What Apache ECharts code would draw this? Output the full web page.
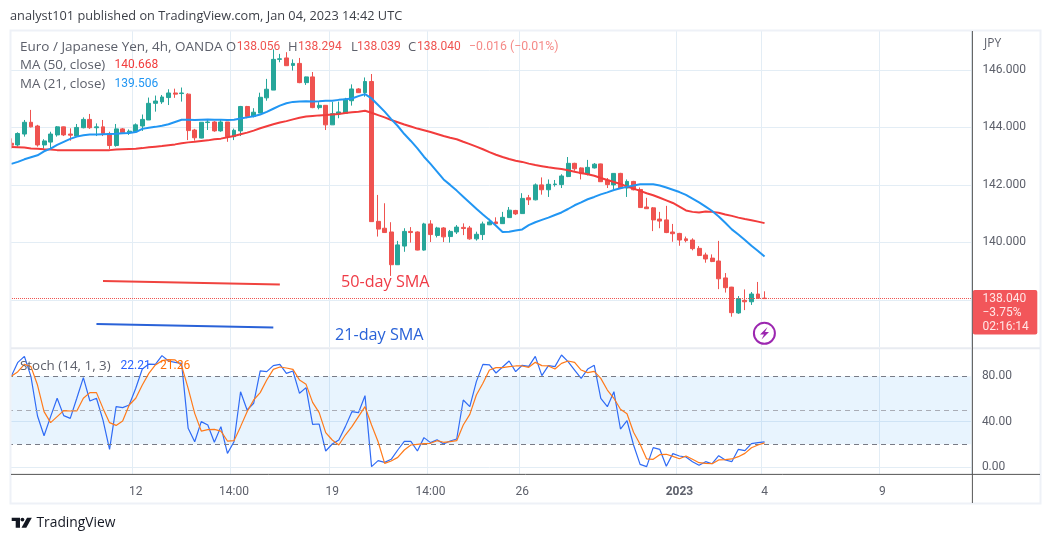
<!DOCTYPE html>
<html><head><meta charset="utf-8">
<style>html,body{margin:0;padding:0;background:#fff}#c{width:1052px;height:542px}</style>
<script src="https://cdn.jsdelivr.net/npm/echarts@6/dist/echarts.min.js"></script>
</head><body><div id="c"></div>
<script>
// [open, close, low, high]
const candles = [
[143.45,143.38,143.27,143.62],[143.39,143.79,143.33,143.83],[143.77,144.18,143.68,144.26],[144.18,144.02,144.00,144.61],[144.05,143.39,143.33,144.09],
[143.39,143.53,143.27,143.59],[143.49,143.77,143.25,143.85],[143.74,144.02,143.68,144.05],[144.02,143.74,143.70,144.03],[143.77,143.73,143.54,143.97],
[143.70,144.00,143.68,144.12],[143.99,144.28,143.97,144.35],[144.28,143.99,143.95,144.47],[143.99,144.02,143.70,144.14],[144.02,143.79,143.70,144.26],
[143.79,143.37,143.25,143.85],[143.37,143.95,143.33,144.12],[143.95,143.82,143.77,143.98],[143.82,143.87,143.74,143.93],[143.85,144.09,143.82,144.14],
[144.05,144.28,143.88,144.45],[144.26,144.84,144.26,145.04],[144.84,144.92,144.55,145.11],[144.89,145.06,144.82,145.13],[145.04,145.20,144.78,145.33],
[145.20,145.16,145.03,145.35],[145.18,145.20,144.90,145.39],[145.16,143.89,143.56,145.19],[143.91,143.64,143.54,143.95],[143.63,144.18,143.62,144.18],
[144.17,144.19,143.91,144.29],[144.19,143.88,143.85,144.22],[143.88,144.19,143.85,144.26],[144.19,143.68,143.50,144.19],[143.68,143.90,143.56,143.96],
[143.88,144.73,143.70,144.75],[144.73,144.38,144.32,144.75],[144.38,144.53,144.35,144.67],[144.50,145.05,144.50,145.21],[145.03,145.33,144.93,145.69],
[145.30,146.37,145.30,146.72],[146.37,146.39,146.27,146.56],[146.42,146.15,146.14,146.62],[146.16,146.23,145.98,146.37],[146.23,145.56,145.54,146.42],
[145.56,145.76,145.48,145.77],[145.76,144.69,144.67,145.93],[144.69,144.77,144.63,144.88],[144.77,144.09,143.91,144.78],[144.09,144.48,144.09,144.89],
[144.47,144.54,144.32,144.90],[144.49,144.99,144.47,145.03],[144.93,145.34,144.76,145.50],[145.34,145.21,145.20,145.37],[145.21,145.60,145.07,145.74],
[145.60,140.72,140.72,145.86],[140.73,140.46,140.20,141.65],[140.49,140.34,140.33,141.36],[140.36,139.22,138.83,140.70],[139.22,139.91,139.21,140.05],
[139.87,140.38,139.67,140.49],[140.38,140.34,139.99,140.53],[140.36,139.73,139.72,140.38],[139.73,140.64,139.71,140.68],[140.64,140.27,140.01,140.77],
[140.24,140.50,140.17,140.54],[140.50,140.19,140.01,140.53],[140.20,140.38,139.99,140.43],[140.36,140.53,140.29,140.60],[140.52,140.48,140.25,140.66],
[140.50,140.12,140.09,140.57],[140.12,140.28,140.06,140.37],[140.27,140.64,140.08,140.72],[140.61,140.71,140.60,140.82],[140.71,140.65,140.60,140.87],
[140.65,140.87,140.64,141.06],[140.86,141.12,140.85,141.23],[141.11,140.99,140.95,141.13],[141.00,141.53,140.99,141.71],[141.55,141.48,141.30,141.65],
[141.48,142.00,141.46,142.05],[142.00,141.83,141.66,142.26],[141.83,142.02,141.58,142.19],[142.01,142.03,141.94,142.17],[142.01,142.31,141.89,142.37],
[142.29,142.75,142.27,142.97],[142.75,142.56,142.49,142.77],[142.59,142.39,142.19,142.61],[142.38,142.61,142.33,142.87],[142.59,142.72,142.57,142.76],
[142.73,142.11,142.10,142.74],[142.16,142.01,141.89,142.24],[142.00,142.40,141.85,142.41],[142.40,141.89,141.87,142.42],[141.89,142.12,141.58,142.19],
[142.12,141.83,141.81,142.14],[141.84,141.21,141.21,141.91],[141.23,141.17,141.16,141.55],[141.20,140.78,140.39,141.23],[140.81,140.74,140.49,141.06],
[140.78,140.34,140.32,141.27],[140.36,140.30,140.02,140.64],[140.31,140.08,139.88,140.33],[140.12,140.06,140.00,140.20],[140.08,139.78,139.72,140.14],
[139.79,139.54,139.52,139.87],[139.56,139.42,139.29,139.64],[139.45,139.33,139.31,139.58],[139.35,138.73,138.37,140.05],[138.76,138.42,138.25,138.93],
[138.44,137.55,137.41,138.45],[137.54,138.04,137.51,138.13],[137.98,137.93,137.64,138.36],[137.93,138.20,137.82,138.27],[138.20,138.05,138.04,138.62],
[138.056,138.040,138.039,138.294]
];
const ma50 = [
143.32,143.31,143.30,143.27,143.26,143.24,143.23,143.21,143.21,143.21,143.21,143.21,143.21,143.21,143.21,143.21,
143.23,143.24,143.25,143.26,143.28,143.31,143.33,143.35,143.38,143.41,143.45,143.48,143.50,143.53,143.55,143.59,143.61,143.66,143.70,143.76,143.82,143.89,143.97,144.04,144.11,144.17,144.22,144.28,144.34,144.38,144.40,144.42,144.43,144.45,144.47,144.50,144.53,
144.55,144.58,144.51,144.43,144.35,144.26,144.18,144.10,144.03,143.96,143.90,143.84,143.77,143.70,143.64,143.59,143.50,143.42,143.33,143.24,143.14,143.05,142.97,142.90,142.84,142.80,142.74,142.69,142.65,142.61,142.58,142.55,142.51,142.46,142.41,142.37,142.32,142.24,142.17,142.10,142.03,141.94,141.87,141.79,141.71,141.64,141.55,141.46,141.37,141.24,141.11,141.06,141.04,
141.07,141.06,141.03,140.97,140.92,140.86,140.81,140.77,140.72,140.668
];
const ma21 = [
142.73,142.80,142.89,142.96,143.03,143.17,143.26,143.39,143.50,143.60,143.68,143.73,143.75,143.75,143.76,143.77,143.78,143.80,143.81,143.84,143.95,143.99,144.02,144.06,144.11,144.19,144.27,144.27,144.26,144.27,144.28,144.27,144.27,144.26,144.27,144.31,144.35,144.39,144.45,144.54,144.65,144.76,144.84,144.89,144.90,144.91,144.90,144.91,144.93,144.93,144.96,144.98,145.01,
145.09,145.16,145.01,144.78,144.55,144.29,144.05,143.77,143.53,143.27,142.98,142.73,142.46,142.19,142.00,141.80,141.59,141.38,141.17,140.97,140.78,140.58,140.36,140.37,140.41,140.45,140.60,140.70,140.78,140.86,140.95,141.04,141.16,141.29,141.39,141.50,141.58,141.67,141.74,141.82,141.88,141.93,141.98,142.02,142.02,142.02,141.98,141.91,141.83,141.75,141.65,141.52,141.39,
141.24,141.09,140.90,140.68,140.45,140.27,140.08,139.88,139.70,139.506
];
const stochK = [
80,92.3,97.6,79.7,45,27.6,44.4,60.6,45.3,42.9,60.6,78.8,58.2,60.6,41.4,15.6,53.2,52.4,54.7,69.4,86.4,90.8,90.5,98.2,93.5,92.3,91.4,34.1,22.3,40,37,21.8,35.6,12,22.3,66.4,50.3,56.2,84.7,84.1,89.4,90.5,82.6,84.7,65,70,37.6,37.9,14.1,20.3,23.8,35.6,48.8,
47.9,62.9,0.3,5.6,4.1,6.8,15,22.6,22.6,14.1,25.9,21.5,24.1,20.3,22.9,24.7,59.1,53.2,75.3,90.5,90,82.9,88.2,93.5,84.1,89.7,88.8,97.6,80.6,89.4,88.5,98.8,92.9,85.5,78.2,86.4,89.7,60.6,53.2,66.4,33.5,40.9,19.4,2.3,0.3,17.1,15.6,0.6,11.8,9.7,8.8,4.7,1.5,
4.7,2.9,10,6.2,4.7,15.6,14.4,20.6,21.5,22.21
];
const stochD = [
80,84.1,90.5,88.5,72.3,48.8,39.1,44.4,49.7,49.4,49.4,60.6,65.6,65.6,51.7,39.1,36.7,40.6,54.7,60.6,72.3,82.6,90,93.8,94.7,94.4,89.4,69.4,47.3,31.7,32.9,33.2,31.7,22.9,23.2,35.6,48.8,59.1,65.6,76.7,86.1,88.2,87.3,86.1,76.7,72.9,57,47.9,30.3,23.8,19.4,28.2,35.6,
44.4,53.2,37,22.3,3.2,5.3,8.5,15,19.4,20,20.6,20.9,23.2,21.8,22.3,23.2,37,46.4,63.5,73.8,85.5,87.6,87.6,88.5,89.1,89.1,87.9,92.3,89.4,89.1,86.4,91.4,93.5,92.3,85.5,83.2,84.4,78.2,67.9,60.6,50.9,47,30.6,20,7.1,6.8,10.9,11.2,9.4,7.3,9.7,6.8,3.8,
3.2,2.9,6.2,6.5,7.1,9.1,12,17,19.4,21.26
];
const tickIndex = [19,34,49,64,78,102,115,133];
const tickLabels = ['12','14:00','19','14:00','26','2023','4','9'];
const barCount = 147;
const priceGrid = [138,140,142,144,146];
const priceTicks = [140,142,144,146];
const stochTicks = [0,40,80];
const stochGrid = [0,40];
const lastClose = 138.040;
const ma50Note = [[14,138.65],[41,138.53]];
const ma21Note = [[13,137.16],[40,137.03]];

const categories = Array.from({length:barCount},(_,i)=>{const k=tickIndex.indexOf(i);return k>=0?tickLabels[k]:'';});
const FONT='"Open Sans",sans-serif', NUM='Roboto,sans-serif';
const GRIDC='#e3edf5', RED='#ef5350', GREEN='#26a69a', MARED='#f23c3c', MABLUE='#2196f3', TXT='#5d606b';
const isTick=(i)=>tickIndex.indexOf(i)>=0;

const L=8.03,W=962.85;
function xAxis(gi,showLabel){return {type:'category',gridIndex:gi,data:categories,boundaryGap:true,
  axisLine:{show:false},axisTick:{show:false},
  axisLabel:{show:showLabel,interval:(i)=>isTick(i),margin:11.5,color:TXT,fontSize:12,fontFamily:NUM,
    formatter:(v)=>v==='2023'?'{b|2023}':v,rich:{b:{fontWeight:'bold',color:TXT,fontSize:12,fontFamily:NUM}}},
  splitLine:{show:true,interval:(i)=>isTick(i),lineStyle:{color:GRIDC,width:1}}};}

function txt(x,y,s,fill,size,fam){return {type:'text',x,y,z:120,silent:true,
  style:{text:s,fill,font:(size||13)+'px '+(fam||FONT),textVerticalAlign:'middle',textAlign:'left'}};}

const graphics=[
 {type:'rect',z:90,silent:true,shape:{x:0,y:28,width:10.5,height:478},style:{fill:'#fff'}},
 {type:'rect',z:91,silent:true,shape:{x:10.5,y:30.5,width:1030,height:473},style:{fill:'none',stroke:'#eef1f7',lineWidth:2}},
 {type:'line',z:92,silent:true,shape:{x1:11,y1:348.3,x2:1040,y2:348.3},style:{stroke:'#e8ebf1',lineWidth:2}},
 {type:'line',z:93,silent:true,shape:{x1:11,y1:474.4,x2:1040,y2:474.4},style:{stroke:'#555',lineWidth:1}},
 {type:'line',z:93,silent:true,shape:{x1:972.4,y1:31,x2:972.4,y2:503},style:{stroke:'#555',lineWidth:1}},
 txt(10,16.5,'analyst101 published on TradingView.com, Jan 04, 2023 14:42 UTC','#3c3f47',12.75),
 txt(20,46.8,'Euro / Japanese Yen, 4h, OANDA',TXT,13.5),
 txt(226,46.8,'O',TXT,13),txt(236.7,46.8,'138.056',RED,12,NUM),
 txt(288,46.8,'H',TXT,13),txt(298,46.8,'138.294',RED,12,NUM),
 txt(351,46.8,'L',TXT,13),txt(357,46.8,'138.039',RED,12,NUM),
 txt(408,46.8,'C',TXT,13),txt(417,46.8,'138.040',RED,12,NUM),
 txt(469,46.8,'\u22120.016 (\u22120.01%)','#f58a87',12.3,NUM),
 txt(20,65.2,'MA (50, close)',TXT,13.3),txt(114.5,65.2,'140.668',MARED,12,NUM),
 txt(20,84.3,'MA (21, close)',TXT,13.3),txt(114.5,84.3,'139.506',MABLUE,12,NUM),
 txt(20,365.7,'Stoch (14, 1, 3)',TXT,13.4),txt(120.5,365.7,'22.21','#2962ff',12,NUM),txt(160,365.7,'21.26','#ff6d00',12,NUM),
 txt(984,43.5,'JPY',TXT,12),
 txt(341,282,'50-day SMA','#ef3b46',16.2),
 txt(335,335.5,'21-day SMA','#2962d8',16.2),
 {type:'rect',z:110,silent:true,shape:{x:972.8,y:290,width:64.5,height:44.5,r:2},style:{fill:'#f2565a'}},
 txt(982.5,298.6,'138.040','#ffe6e6',12,NUM),txt(982.5,312.7,'\u22123.75%','#ffe6e6',12,NUM),txt(982.5,327,'02:16:14','#ffe6e6',12,NUM),
 {type:'circle',z:110,silent:true,shape:{cx:764.4,cy:333.3,r:10.5},style:{fill:'#fff',stroke:'#9c27b0',lineWidth:2}},
 {type:'polygon',z:111,silent:true,shape:{points:[[767.5,327],[760,334.5],[764,334.5],[761.5,339.5],[769,332],[765,332]]},style:{fill:'#9c27b0'}},
 {type:'polygon',z:110,silent:true,shape:{points:[[11.7,517.7],[20,517.7],[20,527.7],[15.7,527.7],[15.7,521],[11.7,521]]},style:{fill:'#131722'}},
 {type:'circle',z:110,silent:true,shape:{cx:22.4,cy:519.6,r:1.9},style:{fill:'#131722'}},
 {type:'polygon',z:110,silent:true,shape:{points:[[27,517.7],[31.8,517.7],[26.3,527.7],[21.5,527.7]]},style:{fill:'#131722'}},
 txt(36.5,523,'TradingView','#131722',13.8),
];

const option={
 animation:false,
 backgroundColor:'#fff',
 grid:[{left:L,width:W,top:31,height:316},{left:L,width:W,top:349,height:125.3}],
 xAxis:[xAxis(0,false),xAxis(1,true)],
 yAxis:[
  {type:'value',gridIndex:0,position:'right',min:136.355,max:147.358,scale:true,
   axisLine:{show:false},axisTick:{show:false,customValues:priceGrid},
   axisLabel:{customValues:priceTicks,formatter:(v)=>v.toFixed(3),margin:11.5,color:TXT,fontSize:12,fontFamily:NUM,align:'left',padding:[3,0,0,0]},
   splitLine:{show:true,lineStyle:{color:GRIDC,width:1}}},
  {type:'value',gridIndex:1,position:'right',min:-6.44,max:104.07,
   axisLine:{show:false},axisTick:{show:false,customValues:stochGrid},
   axisLabel:{customValues:stochTicks,formatter:(v)=>v.toFixed(2),margin:11,color:TXT,fontSize:12,fontFamily:NUM,align:'left',padding:[2,0,0,0]},
   splitLine:{show:true,lineStyle:{color:GRIDC,width:1}}}
 ],
 series:[
  {type:'candlestick',xAxisIndex:0,yAxisIndex:0,data:candles,barWidth:4.4,clip:true,z:3,
   itemStyle:{color:GREEN,color0:RED,borderColor:GREEN,borderColor0:RED,borderWidth:1},
   markLine:{silent:true,symbol:'none',label:{show:false},animation:false,
    lineStyle:{color:RED,type:'dotted',width:1},
    data:[{yAxis:lastClose},
     [{coord:ma50Note[0],lineStyle:{color:'#f0433f',type:'solid',width:2}},{coord:ma50Note[1]}],
     [{coord:ma21Note[0],lineStyle:{color:'#2a62d8',type:'solid',width:2}},{coord:ma21Note[1]}]]}},
  {type:'line',name:'MA 50',xAxisIndex:0,yAxisIndex:0,data:ma50,showSymbol:false,symbol:'none',z:4,lineStyle:{color:MARED,width:2}},
  {type:'line',name:'MA 21',xAxisIndex:0,yAxisIndex:0,data:ma21,showSymbol:false,symbol:'none',z:4,lineStyle:{color:MABLUE,width:2}},
  {type:'line',name:'%K',xAxisIndex:1,yAxisIndex:1,data:stochK,showSymbol:false,symbol:'none',z:4,lineStyle:{color:'#2f6bf5',width:1.2},
   markArea:{silent:true,itemStyle:{color:'rgba(33,150,243,0.1)'},data:[[{yAxis:80},{yAxis:20}]]},
   markLine:{silent:true,symbol:'none',label:{show:false},animation:false,
    data:[{yAxis:80,lineStyle:{color:'#787b86',type:[5,4],width:1}},{yAxis:50,lineStyle:{color:'#a9acb5',type:[5,4],width:1}},{yAxis:20,lineStyle:{color:'#787b86',type:[5,4],width:1}}]}},
  {type:'line',name:'%D',xAxisIndex:1,yAxisIndex:1,data:stochD,showSymbol:false,symbol:'none',z:5,lineStyle:{color:'#ff7a1a',width:1.2}}
 ],
 graphic:{elements:graphics}
};
echarts.init(document.getElementById('c'),null,{renderer:'canvas'}).setOption(option);
</script></body></html>
